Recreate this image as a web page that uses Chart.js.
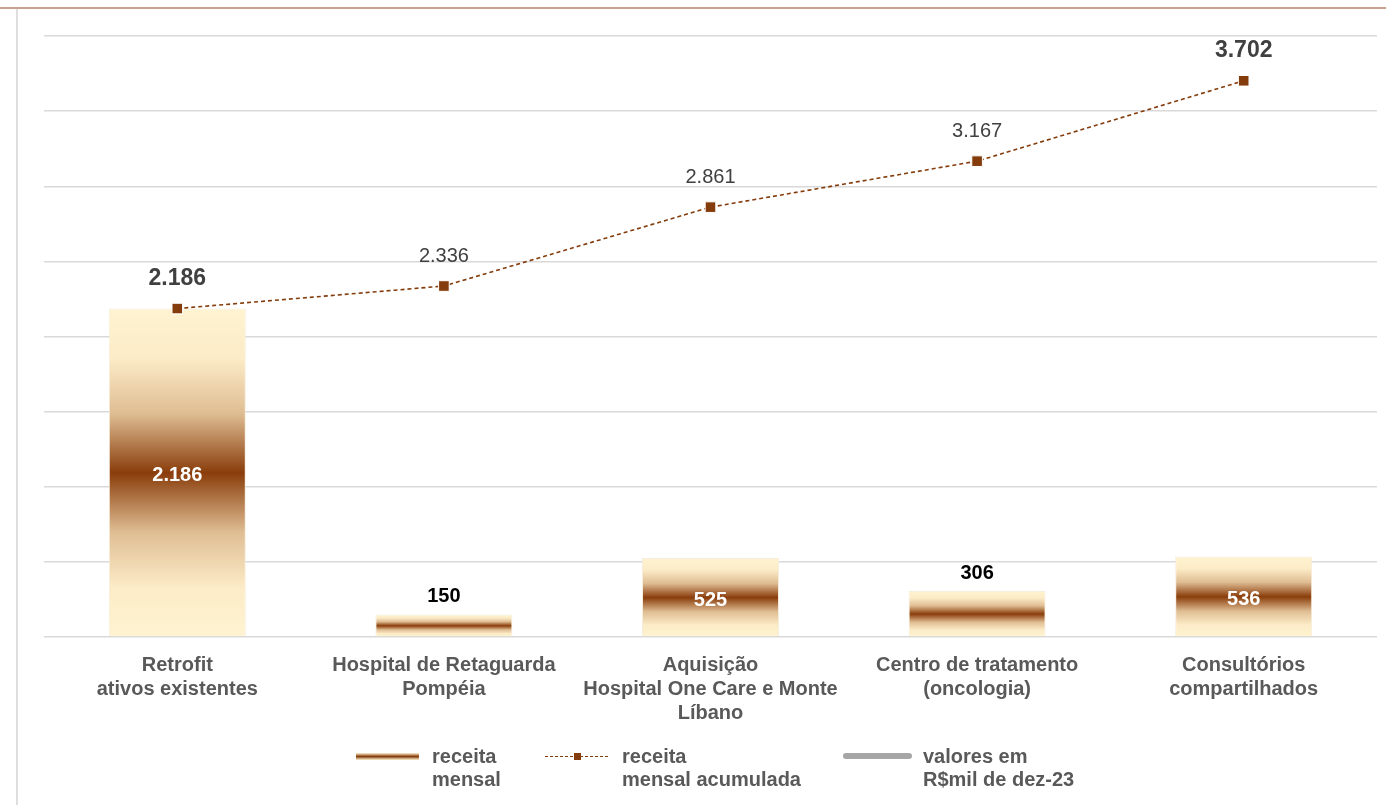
<!DOCTYPE html>
<html>
<head>
<meta charset="utf-8">
<script src="https://cdn.jsdelivr.net/npm/chart.js@4.4.1/dist/chart.umd.min.js"></script>
<style>
  body { margin: 0; background: #fff; }
  #wrap { position: relative; width: 1386px; height: 805px; overflow: hidden; font-family: "Liberation Sans", Arial, sans-serif; }
  #chart { position: absolute; left: 0; top: 0; }
  .topline { position: absolute; left: 0; top: 7px; width: 1386px; height: 2px; background: #c9a08c; }
  .leftline { position: absolute; left: 16px; top: 9px; width: 2px; height: 796px; background: #dedede; }
  .lg-text { position: absolute; font-weight: bold; font-size: 20px; line-height: 23px; color: #595959; white-space: nowrap; }
  .sw { position: absolute; }
</style>
</head>
<body>
<div id="wrap">
  <canvas id="chart" width="1386" height="805"></canvas>
  <div class="topline"></div>
  <div class="leftline"></div>
  <div id="legend"></div>
</div>
<script>
const $ = document;

const categories = [
  ["Retrofit", "ativos existentes"],
  ["Hospital de Retaguarda", "Pompéia"],
  ["Aquisição", "Hospital One Care e Monte", "Líbano"],
  ["Centro de tratamento", "(oncologia)"],
  ["Consultórios", "compartilhados"]
];
const receitaMensal = [2186, 150, 525, 306, 536];
const receitaAcumulada = [2186, 2336, 2861, 3167, 3702];
const boldLineLabels = [true, false, false, false, true];
const legendItems = [
  ["receita", "mensal"],
  ["receita", "mensal acumulada"],
  ["valores em", "R$mil de dez-23"]
];

const brown = "#843c0c";
const cream = "#fff3d1";

function fmt(v) {
  return String(v).replace(/\B(?=(\d{3})+(?!\d))/g, ".");
}

function barGradient(context) {
  const chart = context.chart;
  if (!chart.chartArea || context.type !== "data") return "#c8956a";
  const y = chart.scales.y;
  const top = y.getPixelForValue(context.raw);
  const bottom = y.getPixelForValue(0);
  const g = chart.ctx.createLinearGradient(0, top, 0, bottom);
  g.addColorStop(0, cream);
  g.addColorStop(0.15, "#fcecc7");
  g.addColorStop(0.32, "#dfbd93");
  g.addColorStop(0.5, "#8a3d0b");
  g.addColorStop(0.68, "#dfbd93");
  g.addColorStop(0.85, "#fcecc7");
  g.addColorStop(1, cream);
  return g;
}

// value labels for bars and line points
const valueLabels = {
  id: "valueLabels",
  afterDatasetsDraw(chart) {
    const c = chart.ctx;
    c.save();
    c.textAlign = "center";
    c.textBaseline = "middle";
    chart.getDatasetMeta(0).data.forEach((bar, i) => {
      const v = receitaMensal[i];
      const h = bar.base - bar.y;
      c.font = "bold 20px 'Liberation Sans', Arial, sans-serif";
      if (h > 50) {
        c.fillStyle = "#ffffff";
        c.fillText(fmt(v), bar.x, bar.y + h / 2 + 3);
      } else {
        c.fillStyle = "#000000";
        c.fillText(fmt(v), bar.x, bar.y - 18);
      }
    });
    chart.getDatasetMeta(1).data.forEach((pt, i) => {
      const bold = boldLineLabels[i];
      c.font = (bold ? "bold 23px" : "20px") + " 'Liberation Sans', Arial, sans-serif";
      c.fillStyle = "#404040";
      c.fillText(fmt(receitaAcumulada[i]), pt.x, pt.y - 30);
    });
    c.restore();
  }
};

function buildLegend() {
  const el = $.getElementById("legend");
  const swatches = [
    { left: 356, top: 753, width: 63, height: 7, css: "background: linear-gradient(to bottom, " + cream + ", " + brown + " 50%, " + cream + ");" },
    { left: 545, top: 756, width: 63, height: 0, css: "border-top: 1.5px dashed " + brown + ";" },
    { left: 843, top: 753, width: 69, height: 6, css: "background: #a6a6a6; border-radius: 3px;" }
  ];
  const textLeft = [432, 622, 923];
  swatches.forEach((s, i) => {
    const d = $.createElement("div");
    d.className = "sw";
    d.style.cssText = `left:${s.left}px;top:${s.top}px;width:${s.width}px;height:${s.height}px;` + s.css;
    el.appendChild(d);
    if (i === 1) {
      const m = $.createElement("div");
      m.className = "sw";
      m.style.cssText = `left:${s.left + s.width / 2 - 3}px;top:${s.top - 3}px;width:7px;height:7px;background:${brown};`;
      el.appendChild(m);
    }
    const t = $.createElement("div");
    t.className = "lg-text";
    t.style.left = textLeft[i] + "px";
    t.style.top = "745px";
    t.innerHTML = legendItems[i].join("<br>");
    el.appendChild(t);
  });
}

const chartData = {
  labels: categories,
  datasets: [
    {
      type: "bar",
      label: "receita mensal",
      data: receitaMensal,
      backgroundColor: barGradient,
      borderColor: "#f6eedc",
      borderWidth: 1,
      barPercentage: 0.514,
      categoryPercentage: 1,
      order: 2
    },
    {
      type: "line",
      label: "receita mensal acumulada",
      data: receitaAcumulada,
      borderColor: brown,
      borderWidth: 1.6,
      borderDash: [4, 3],
      pointStyle: "rect",
      pointRadius: 7.5,
      pointBackgroundColor: brown,
      pointBorderColor: "#ffffff",
      pointBorderWidth: 1,
      tension: 0,
      order: 1
    }
  ]
};

const chartConfig = {
  data: chartData,
  options: {
    responsive: false,
    animation: false,
    layout: { padding: { top: 36, right: 9, left: 0, bottom: 0 } },
    plugins: {
      legend: { display: false },
      tooltip: { enabled: false }
    },
    scales: {
      x: {
        grid: { display: false },
        border: { display: false },
        ticks: {
          color: "#595959",
          font: { family: "'Liberation Sans', Arial, sans-serif", size: 20, weight: "bold", lineHeight: 1.2 },
          padding: 8,
          maxRotation: 0,
          autoSkip: false
        },
        afterFit(scale) { scale.height = 168; }
      },
      y: {
        min: 0,
        max: 4000,
        ticks: { display: false, stepSize: 500 },
        grid: { color: "#d9d9d9", lineWidth: 1.5, drawTicks: false },
        border: { display: false },
        afterFit(scale) { scale.width = 44; }
      }
    }
  },
  plugins: [valueLabels]
};

buildLegend();
new Chart($.getElementById("chart"), chartConfig);
</script>
</body>
</html>
